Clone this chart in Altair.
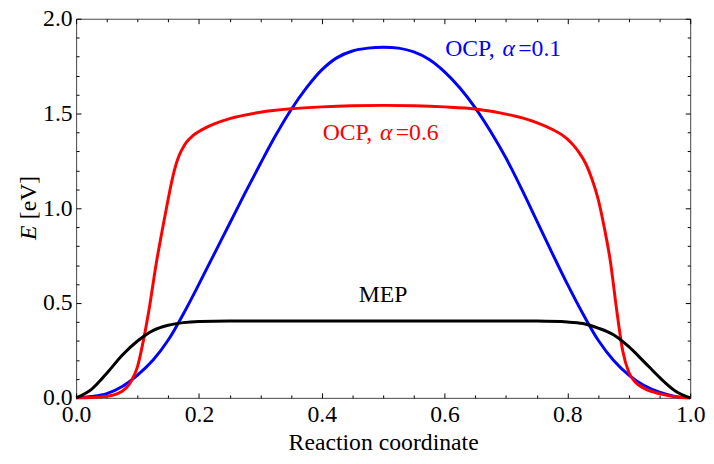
import altair as alt
import pandas as pd

# ---------------- data ----------------
x_ocp01 = [0.0, 0.025, 0.05, 0.075, 0.1, 0.125, 0.15, 0.175, 0.2, 0.225, 0.25,
           0.275, 0.3, 0.325, 0.35, 0.375, 0.4, 0.425, 0.45, 0.475, 0.5,
           0.525, 0.55, 0.575, 0.6, 0.625, 0.65, 0.675, 0.7, 0.725, 0.75,
           0.775, 0.8, 0.825, 0.85, 0.875, 0.9, 0.925, 0.95, 0.975, 1.0]
e_ocp01 = [0.0, 0.007, 0.022, 0.06, 0.12, 0.198, 0.305, 0.445, 0.60, 0.76, 0.92,
           1.08, 1.235, 1.385, 1.52, 1.635, 1.73, 1.795, 1.83, 1.845, 1.85,
           1.845, 1.825, 1.785, 1.72, 1.635, 1.53, 1.405, 1.265, 1.105, 0.935,
           0.765, 0.60, 0.445, 0.305, 0.198, 0.12, 0.065, 0.03, 0.008, 0.0]

x_ocp06 = [0.0, 0.025, 0.05, 0.075, 0.09, 0.1, 0.11, 0.12, 0.13, 0.14, 0.15,
           0.155, 0.16, 0.165, 0.17, 0.175, 0.18, 0.19, 0.2, 0.21, 0.225, 0.25,
           0.3, 0.35, 0.4, 0.45, 0.5, 0.55, 0.6, 0.65, 0.7, 0.725, 0.75, 0.775,
           0.79, 0.8, 0.81, 0.82, 0.83, 0.84, 0.85, 0.86, 0.87, 0.88, 0.89, 0.9,
           0.91, 0.925, 0.95, 0.975, 1.0]
e_ocp06 = [0.0, 0.002, 0.008, 0.035, 0.09, 0.165, 0.31, 0.49, 0.70, 0.88, 1.05,
           1.13, 1.20, 1.255, 1.295, 1.325, 1.35, 1.383, 1.405, 1.423, 1.445, 1.473,
           1.507, 1.525, 1.535, 1.541, 1.543, 1.541, 1.535, 1.524, 1.497, 1.478, 1.452, 1.417,
           1.39, 1.365, 1.332, 1.29, 1.235, 1.155, 1.05, 0.90, 0.72, 0.47, 0.25, 0.135,
           0.085, 0.05, 0.022, 0.006, 0.0]

x_mep = [0.0, 0.025, 0.05, 0.075, 0.1, 0.125, 0.15, 0.175, 0.2, 0.25, 0.3, 0.5,
         0.7, 0.75, 0.8, 0.825, 0.85, 0.875, 0.9, 0.925, 0.95, 0.975, 1.0]
e_mep = [0.0, 0.045, 0.13, 0.225, 0.30, 0.355, 0.383, 0.397, 0.403, 0.406, 0.406, 0.406,
         0.406, 0.405, 0.400, 0.392, 0.368, 0.333, 0.27, 0.19, 0.108, 0.038, 0.0]

x_major = [0.0, 0.2, 0.4, 0.6, 0.8, 1.0]
x_minor = [0.05, 0.1, 0.15, 0.25, 0.3, 0.35, 0.45, 0.5, 0.55,
           0.65, 0.7, 0.75, 0.85, 0.9, 0.95]
y_major = [0.0, 0.5, 1.0, 1.5, 2.0]
y_minor = [0.1, 0.2, 0.3, 0.4, 0.6, 0.7, 0.8, 0.9, 1.1, 1.2, 1.3, 1.4,
           1.6, 1.7, 1.8, 1.9]

# annotation anchors (data coordinates)
lab_text = ["OCP,", "OCP,"]
lab_alpha = ["=0.1", "=0.6"]
lab_x = [0.601, 0.4015]
lab_y = [1.806, 1.358]
lab_color = ["#0000ff", "#ff0000"]
mep_label = "MEP"
mep_x = 0.5
mep_y = 0.505

FONT = "Liberation Serif, Times New Roman, Times, DejaVu Serif, serif"
FS = 24
W, H = 622, 384

xs = alt.Scale(domain=[0, 1], nice=False, zero=False)
ys = alt.Scale(domain=[0, 2], nice=False, zero=False)


def axis(orient, values, size, labels, title=None, pad=4):
    return alt.Axis(orient=orient, values=values, tickSize=size, offset=-size,
                    domain=False, grid=False, labels=labels, format=".1f",
                    labelFont=FONT, labelFontSize=FS, labelColor="black",
                    labelPadding=pad, labelFlush=False, labelOverlap=False,
                    tickColor="black", tickWidth=1, title=title,
                    titleFont=FONT, titleFontSize=FS, titleFontWeight="normal",
                    titleColor="black", titlePadding=4)


def df_of(xv, ev):
    return pd.DataFrame({"x": xv, "E": ev})


blue = alt.Chart(df_of(x_ocp01, e_ocp01)).mark_line(
    color="#0000ff", strokeWidth=3, interpolate="catmull-rom").encode(
    x=alt.X("x:Q", scale=xs, axis=axis("bottom", x_major, 5, True, "Reaction coordinate", 5)),
    y=alt.Y("E:Q", scale=ys, axis=axis("left", y_major, 5, True, None, 4)),
)
red = alt.Chart(df_of(x_ocp06, e_ocp06)).mark_line(
    color="#ff0000", strokeWidth=3, interpolate="monotone").encode(
    x=alt.X("x:Q", scale=xs, axis=axis("bottom", x_minor, 3, False)),
    y=alt.Y("E:Q", scale=ys, axis=axis("left", y_minor, 3, False)),
)
black = alt.Chart(df_of(x_mep, e_mep)).mark_line(
    color="black", strokeWidth=3, interpolate="monotone").encode(
    x=alt.X("x:Q", scale=xs, axis=axis("top", x_major, 5, False)),
    y=alt.Y("E:Q", scale=ys, axis=axis("right", y_major, 5, False)),
)
ghost = alt.Chart(df_of(x_mep, e_mep)).mark_point(opacity=0).encode(
    x=alt.X("x:Q", scale=xs, axis=axis("top", x_minor, 3, False)),
    y=alt.Y("E:Q", scale=ys, axis=axis("right", y_minor, 3, False)),
)

lab_df = pd.DataFrame({"t1": lab_text, "t2": ["α", "α"], "t3": lab_alpha,
                       "x": lab_x, "E": lab_y, "c": lab_color})
enc = dict(x=alt.X("x:Q", scale=xs, axis=None), y=alt.Y("E:Q", scale=ys, axis=None),
           color=alt.Color("c:N", scale=None))
t1 = alt.Chart(lab_df).mark_text(align="left", baseline="alphabetic", font=FONT,
                                 fontSize=FS).encode(text="t1:N", **enc)
t2 = alt.Chart(lab_df).mark_text(align="left", baseline="alphabetic", font=FONT,
                                 fontSize=FS, fontStyle="italic", dx=58).encode(text="t2:N", **enc)
t3 = alt.Chart(lab_df).mark_text(align="left", baseline="alphabetic", font=FONT,
                                 fontSize=FS, dx=74).encode(text="t3:N", **enc)
mep = alt.Chart(pd.DataFrame({"t": [mep_label], "x": [mep_x], "E": [mep_y]})).mark_text(
    align="center", baseline="alphabetic", font=FONT, fontSize=FS, color="black").encode(
    text="t:N", x=alt.X("x:Q", scale=xs, axis=None), y=alt.Y("E:Q", scale=ys, axis=None))

ytitle_e = alt.Chart(pd.DataFrame({"t": ["E"]})).mark_text(
    angle=270, align="left", baseline="alphabetic", font=FONT, fontSize=FS,
    fontStyle="italic", color="black").encode(text="t:N", x=alt.value(-41), y=alt.value(224))
ytitle_u = alt.Chart(pd.DataFrame({"t": ["[eV]"]})).mark_text(
    angle=270, align="left", baseline="alphabetic", font=FONT, fontSize=FS,
    color="black").encode(text="t:N", x=alt.value(-41), y=alt.value(203))

chart = alt.layer(ghost, blue, red, black, t1, t2, t3, mep, ytitle_e, ytitle_u).resolve_axis(
    x="independent", y="independent"
).properties(
    width=W, height=H,
    padding={"left": 69, "top": 8, "right": 16, "bottom": 56},
    autosize=alt.AutoSizeParams(type="none"),
    background="white",
).configure_view(stroke="#444444", strokeWidth=1)

chart.save("out.html", embed_options={"renderer": "svg", "actions": False})
